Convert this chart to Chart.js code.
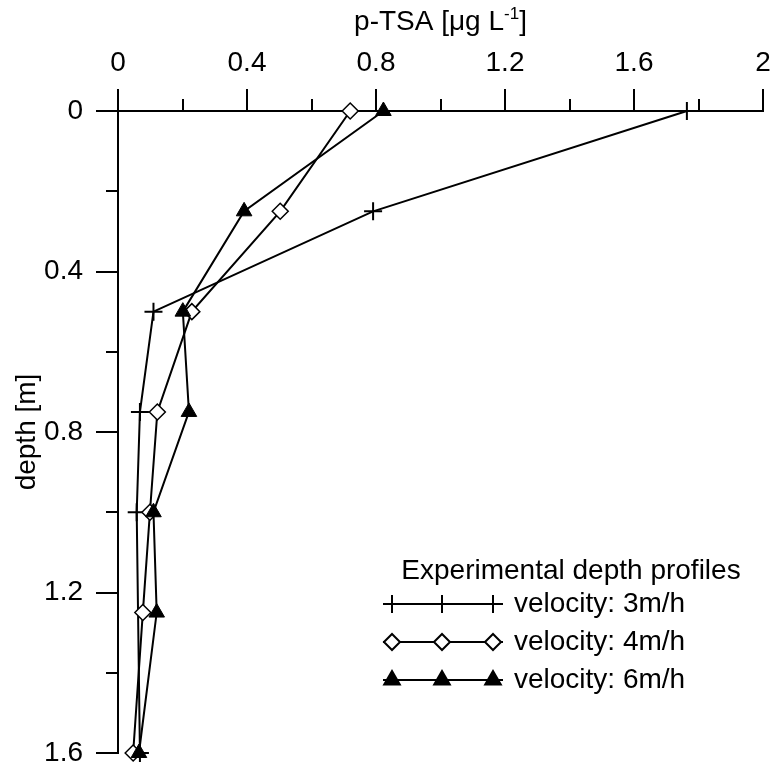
<!DOCTYPE html>
<html>
<head>
<meta charset="utf-8">
<script src="https://cdn.jsdelivr.net/npm/chart.js@4.4.1/dist/chart.umd.min.js"></script>
<style>
  body { margin: 0; background: #fff; }
  #wrap { width: 774px; height: 771px; }
</style>
</head>
<body>
<div id="wrap"><canvas id="c" width="774" height="771"></canvas></div>
<script>
// depth [m] of each sample
const depths = [0, 0.25, 0.5, 0.75, 1.0, 1.25, 1.6];
// p-TSA [ug/L] per velocity (null = no sample)
const vel3 = [1.764, 0.791, 0.110, 0.068, 0.058, null, 0.068];
const vel4 = [0.720, 0.503, 0.229, 0.122, 0.099, 0.077, 0.047];
const vel6 = [0.823, 0.391, 0.201, 0.220, 0.110, 0.120, 0.065];

const seriesNames = ["velocity: 3m/h", "velocity: 4m/h", "velocity: 6m/h"];
const xMinorTicks = [0.2, 0.6, 1.0, 1.4, 1.8];
const yMinorTicks = [0.2, 0.6, 1.0, 1.4];

const FONT = "'Liberation Sans', Arial, sans-serif";
const FS = 28;

function toPoints(values) {
  const pts = [];
  values.forEach((v, i) => {
    if (v !== null) pts.push({ x: v, y: depths[i] });
  });
  return pts;
}

const styles = [
  { pointStyle: "cross", pointRadius: 9, pointBackgroundColor: "#000", pointBorderWidth: 2 },
  { pointStyle: "rectRot", pointRadius: 8, pointBackgroundColor: "#fff", pointBorderWidth: 1.5 },
  { pointStyle: "triangle", pointRadius: 9, pointBackgroundColor: "#000", pointBorderWidth: 1 }
];

function drawMarker(ctx, idx, x, y) {
  const s = styles[idx];
  ctx.save();
  ctx.fillStyle = s.pointBackgroundColor;
  ctx.strokeStyle = "#000";
  Chart.helpers.drawPoint(ctx, {
    pointStyle: s.pointStyle,
    radius: s.pointRadius,
    borderWidth: s.pointBorderWidth,
    rotation: 0
  }, x, y);
  ctx.restore();
}

const extras = {
  id: "extras",
  afterDraw(chart) {
    const ctx = chart.ctx;
    const xs = chart.scales.x, ys = chart.scales.y;
    const top = chart.chartArea.top, left = chart.chartArea.left;
    ctx.save();
    ctx.strokeStyle = "#000";
    ctx.lineWidth = 2;
    // minor ticks
    xMinorTicks.forEach(v => {
      const px = Math.round(xs.getPixelForValue(v));
      ctx.beginPath(); ctx.moveTo(px, top); ctx.lineTo(px, top - 12); ctx.stroke();
    });
    yMinorTicks.forEach(v => {
      const py = Math.round(ys.getPixelForValue(v));
      ctx.beginPath(); ctx.moveTo(left, py); ctx.lineTo(left - 12, py); ctx.stroke();
    });

    // x axis title with superscript
    ctx.fillStyle = "#000";
    ctx.textBaseline = "alphabetic";
    const big = FS + "px " + FONT, small = "17px " + FONT;
    ctx.font = big;
    const a = "p-TSA [\u03bcg L", c = "]";
    const wa = ctx.measureText(a).width, wc = ctx.measureText(c).width;
    ctx.font = small;
    const wb = ctx.measureText("-1").width;
    let tx = (xs.left + xs.right) / 2 - (wa + wb + wc) / 2;
    const ty = 30;
    ctx.font = big; ctx.textAlign = "left";
    ctx.fillText(a, tx, ty);
    ctx.font = small;
    ctx.fillText("-1", tx + wa, ty - 11);
    ctx.font = big;
    ctx.fillText(c, tx + wa + wb, ty);

    // legend
    ctx.font = FS + "px " + FONT;
    ctx.textAlign = "center";
    ctx.fillText("Experimental depth profiles", 571, 579);
    const rows = [604, 642, 680];
    const mx = [392, 442, 493];
    rows.forEach((ry, i) => {
      ctx.lineWidth = 2;
      ctx.beginPath(); ctx.moveTo(383, ry); ctx.lineTo(503, ry); ctx.stroke();
      mx.forEach(x => drawMarker(ctx, i, x, ry));
      ctx.fillStyle = "#000";
      ctx.textAlign = "left";
      ctx.textBaseline = "alphabetic";
      ctx.font = FS + "px " + FONT;
      ctx.fillText(seriesNames[i], 514, ry + 8);
    });
    ctx.restore();
  }
};

const datasets = [vel3, vel4, vel6].map((vals, i) => Object.assign({
  label: seriesNames[i],
  data: toPoints(vals),
  showLine: true,
  borderColor: "#000",
  borderWidth: 2,
  pointBorderColor: "#000",
  pointHoverRadius: 9,
  order: 3 - i,
  clip: false
}, styles[i]));

new Chart(document.getElementById("c").getContext("2d"), {
  type: "scatter",
  data: { datasets },
  options: {
    responsive: false,
    animation: false,
    maintainAspectRatio: false,
    layout: { padding: { left: 0, top: 0, right: 11, bottom: 18 } },
    plugins: { legend: { display: false }, tooltip: { enabled: false } },
    scales: {
      x: {
        type: "linear",
        position: "top",
        min: 0, max: 2,
        afterFit(scale) {
          scale.height = 111;
          scale.paddingLeft = 0;
          scale.paddingRight = 0;
        },
        border: { color: "#000", width: 2 },
        grid: { drawOnChartArea: false, color: "#000", lineWidth: 2, tickLength: 22 },
        ticks: {
          stepSize: 0.4,
          padding: 9,
          color: "#000",
          font: { family: FONT, size: FS },
          maxRotation: 0,
          callback: v => String(Number(v.toFixed(1)))
        }
      },
      y: {
        type: "linear",
        reverse: true,
        min: 0, max: 1.6,
        afterFit(scale) {
          scale.width = 118;
          scale.paddingTop = 0;
          scale.paddingBottom = 0;
        },
        border: { color: "#000", width: 2 },
        grid: { drawOnChartArea: false, color: "#000", lineWidth: 2, tickLength: 22 },
        ticks: {
          stepSize: 0.4,
          padding: 13,
          color: "#000",
          font: { family: FONT, size: FS },
          callback: v => String(Number(v.toFixed(1)))
        },
        title: {
          display: true,
          text: "depth [m]",
          color: "#000",
          font: { family: FONT, size: FS },
          padding: { top: 10, bottom: 0 }
        }
      }
    }
  },
  plugins: [extras]
});
</script>
</body>
</html>
